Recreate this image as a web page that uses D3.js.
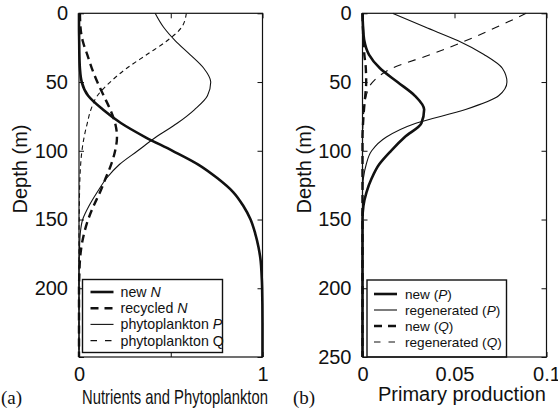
<!DOCTYPE html>
<html>
<head>
<meta charset="utf-8">
<script src="https://cdn.jsdelivr.net/npm/d3@7"></script>
<style>
  html, body { margin: 0; padding: 0; background: #fff; }
  svg { display: block; }
</style>
</head>
<body>
<script>
// Depth grids (m)
const depthA = [0,10,20,30,40,50,60,70,80,90,100,110,120,130,140,150,160,170,180,190,200,225,250];
const depthB = [0,10,20,30,40,50,60,70,80,90,100,110,120,130,140,150,200,250];

// Panel (a): nutrients and phytoplankton (dimensionless)
const newN      = [0,0,0.001,0.002,0.005,0.015,0.05,0.13,0.23,0.36,0.51,0.65,0.755,0.84,0.895,0.935,0.96,0.978,0.99,0.995,0.998,1,1];
const recycledN = [0.005,0.008,0.02,0.045,0.07,0.10,0.135,0.17,0.197,0.207,0.197,0.175,0.145,0.115,0.08,0.05,0.028,0.013,0.005,0.002,0,0,0];
const phytoP    = [0.415,0.46,0.525,0.605,0.68,0.718,0.70,0.63,0.535,0.42,0.32,0.22,0.15,0.10,0.055,0.02,0.007,0.003,0.001,0,0,0,0];
const phytoQ    = [0.585,0.56,0.48,0.37,0.26,0.17,0.10,0.065,0.045,0.028,0.016,0.009,0.005,0.003,0.002,0.001,0,0,0,0,0,0,0];

// Panel (b): primary production
const newPprod  = [0,0.0003,0.001,0.0035,0.0095,0.019,0.0285,0.0335,0.032,0.023,0.0155,0.009,0.005,0.0022,0.0005,0,0,0];
const regenP    = [0.0165,0.034,0.052,0.066,0.076,0.0785,0.074,0.056,0.029,0.013,0.005,0.002,0.0005,0,0,0,0,0];
const newQprod  = [0,0.0002,0.0005,0.001,0.0018,0.002,0.0015,0.0008,0.0003,0,0,0,0,0,0,0,0,0];
const regenQ    = [0.089,0.073,0.056,0.037,0.016,0.0055,0.002,0.0008,0.0003,0,0,0,0,0,0,0,0,0];

// Ticks
const depthTicks = [0,50,100,150,200,250];
const xTicksA = [0,0.5,1];
const xTickLabelsA = ["0","","1"];
const xTicksB = [0,0.05,0.1];
const xTickLabelsB = ["0","0.05","0.1"];

const W = 558, H = 414;
const FONT = "'Liberation Sans', Arial, Helvetica, sans-serif";
const SERIF = "'Liberation Serif', 'Times New Roman', serif";

const svg = d3.select("body").append("svg")
  .attr("width", W).attr("height", H)
  .attr("viewBox", `0 0 ${W} ${H}`);
svg.append("rect").attr("width", W).attr("height", H).attr("fill", "#fff");

const yTop = 13.3, yBot = 357;

function panel(opts) {
  const styles = opts.styles;
  const x = d3.scaleLinear().domain(opts.xDomain).range([opts.x0, opts.x1]);
  const y = d3.scaleLinear().domain([0, 250]).range([yTop, yBot]);
  const g = svg.append("g");

  const clipId = "clip" + opts.id;
  g.append("clipPath").attr("id", clipId)
    .append("rect").attr("x", opts.x0 - 2).attr("y", yTop - 2)
    .attr("width", opts.x1 - opts.x0 + 4).attr("height", yBot - yTop + 4);

  const line = d3.line()
    .x(d => x(d[1])).y(d => y(d[0]))
    .curve(d3.curveMonotoneY);

  const curves = g.append("g").attr("clip-path", `url(#${clipId})`);
  opts.series.forEach(s => {
    const st = styles[s.style];
    curves.append("path")
      .datum(opts.depth.map((d, i) => [d, s.values[i]]))
      .attr("d", line)
      .attr("fill", "none")
      .attr("stroke", "#111")
      .attr("stroke-width", st.w)
      .attr("stroke-dasharray", st.dash)
      .attr("stroke-linejoin", "round");
  });

  // Inward ticks on all four sides
  const fmtY = d => opts.yLabels.includes(d) ? String(d) : "";
  const axL = g.append("g").attr("transform", `translate(${opts.x0},0)`)
    .call(d3.axisLeft(y).tickValues(depthTicks).tickSize(-5).tickPadding(11).tickFormat(fmtY));
  const axR = g.append("g").attr("transform", `translate(${opts.x1},0)`)
    .call(d3.axisRight(y).tickValues(depthTicks).tickSize(-5).tickFormat(""));
  const axT = g.append("g").attr("transform", `translate(0,${yTop})`)
    .call(d3.axisTop(x).tickValues(opts.xTicks).tickSize(-5).tickFormat(""));
  const axB = g.append("g").attr("transform", `translate(0,${yBot})`)
    .call(d3.axisBottom(x).tickValues(opts.xTicks).tickSize(-5).tickPadding(10)
      .tickFormat((d, i) => opts.xTickLabels[i]));
  [axL, axR, axT, axB].forEach(a => {
    a.select(".domain").remove();
    a.selectAll("line").attr("stroke", "#111").attr("stroke-width", 1);
    a.selectAll("text").attr("font-family", FONT).attr("font-size", 20).attr("fill", "#111");
  });

  // Legend
  const L = opts.legend;
  const lg = g.append("g");
  lg.append("rect").attr("x", L.x).attr("y", L.y).attr("width", L.w).attr("height", L.h)
    .attr("fill", "#fff").attr("stroke", "#111").attr("stroke-width", 1.4);
  opts.series.forEach((s, i) => {
    const st = styles[s.style];
    const cy = L.y + L.firstRow + i * L.rowGap;
    lg.append("line")
      .attr("x1", L.x + L.lineX0).attr("x2", L.x + L.lineX1)
      .attr("y1", cy).attr("y2", cy)
      .attr("stroke", "#111").attr("stroke-width", st.w)
      .attr("stroke-dasharray", L.legendDash[s.style] || null);
    const t = lg.append("text")
      .attr("x", L.x + L.textX).attr("y", cy).attr("dy", "0.35em")
      .attr("font-family", FONT).attr("font-size", L.fontSize).attr("fill", "#111");
    s.label.forEach(part => {
      t.append("tspan").text(part.t).attr("font-style", part.i ? "italic" : null);
    });
  });

  // Frame
  g.append("rect").attr("x", opts.x0).attr("y", yTop)
    .attr("width", opts.x1 - opts.x0).attr("height", yBot - yTop)
    .attr("fill", "none").attr("stroke", "#111").attr("stroke-width", 1.2);

  // Axis titles
  g.append("text")
    .attr("transform", `translate(${opts.yTitleX},169) rotate(-90)`)
    .attr("text-anchor", "middle")
    .attr("font-family", FONT).attr("font-size", 20).attr("fill", "#111")
    .text("Depth (m)");

  const xt = opts.xTitle;
  g.append("text")
    .attr("transform", `translate(${xt.x},${xt.y}) scale(${xt.sx || 1},${xt.sy || 1})`)
    .attr("font-family", FONT).attr("font-size", xt.size).attr("fill", "#111")
    .text(xt.text);

  g.append("text")
    .attr("x", opts.tag.x).attr("y", 404)
    .attr("font-family", SERIF).attr("font-size", 19).attr("fill", "#111")
    .text(opts.tag.text);
}

panel({
  id: "a",
  x0: 79, x1: 262.5, xDomain: [0, 1],
  depth: depthA,
  xTicks: xTicksA, xTickLabels: xTickLabelsA,
  yLabels: [0,50,100,150,200],
  styles: {
    thick:     { w: 2.6, dash: null },
    thickDash: { w: 2.4, dash: "8,5" },
    thin:      { w: 1.1, dash: null },
    thinDash:  { w: 1.1, dash: "4.5,3.5" }
  },
  series: [
    { values: newN,      style: "thick",     label: [{t:"new "},{t:"N", i:true}] },
    { values: recycledN, style: "thickDash", label: [{t:"recycled "},{t:"N", i:true}] },
    { values: phytoP,    style: "thin",      label: [{t:"phytoplankton "},{t:"P", i:true}] },
    { values: phytoQ,    style: "thinDash",  label: [{t:"phytoplankton Q"}] }
  ],
  legend: { x: 82.5, y: 279.5, w: 140, h: 73, firstRow: 12.5, rowGap: 16.2,
            lineX0: 8, lineX1: 31, textX: 38, fontSize: 14.2,
            legendDash: { thickDash: "8,6", thinDash: "6.5,8" } },
  yTitleX: 27,
  xTitle: { text: "Nutrients and Phytoplankton", x: 82, y: 404, size: 14.8, sx: 1, sy: 1.38 },
  tag: { text: "(a)", x: 1 }
});

panel({
  id: "b",
  x0: 362.5, x1: 546.5, xDomain: [0, 0.1],
  depth: depthB,
  xTicks: xTicksB, xTickLabels: xTickLabelsB,
  yLabels: [0,50,100,150,200,250],
  styles: {
    thick:     { w: 2.6, dash: null },
    thickDash: { w: 2.4, dash: "8,5" },
    thin:      { w: 1.1, dash: null },
    thinDash:  { w: 1.1, dash: "8,7" }
  },
  series: [
    { values: newPprod, style: "thick",     label: [{t:"new ("},{t:"P", i:true},{t:")"}] },
    { values: regenP,   style: "thin",      label: [{t:"regenerated ("},{t:"P", i:true},{t:")"}] },
    { values: newQprod, style: "thickDash", label: [{t:"new ("},{t:"Q", i:true},{t:")"}] },
    { values: regenQ,   style: "thinDash",  label: [{t:"regenerated ("},{t:"Q", i:true},{t:")"}] }
  ],
  legend: { x: 367, y: 280, w: 139.5, h: 77, firstRow: 14, rowGap: 16,
            lineX0: 7, lineX1: 30, textX: 38, fontSize: 13.6,
            legendDash: { thickDash: "8,6", thinDash: "6.5,8" } },
  yTitleX: 311,
  xTitle: { text: "Primary production", x: 378, y: 401, size: 20 },
  tag: { text: "(b)", x: 293 }
});
</script>
</body>
</html>
